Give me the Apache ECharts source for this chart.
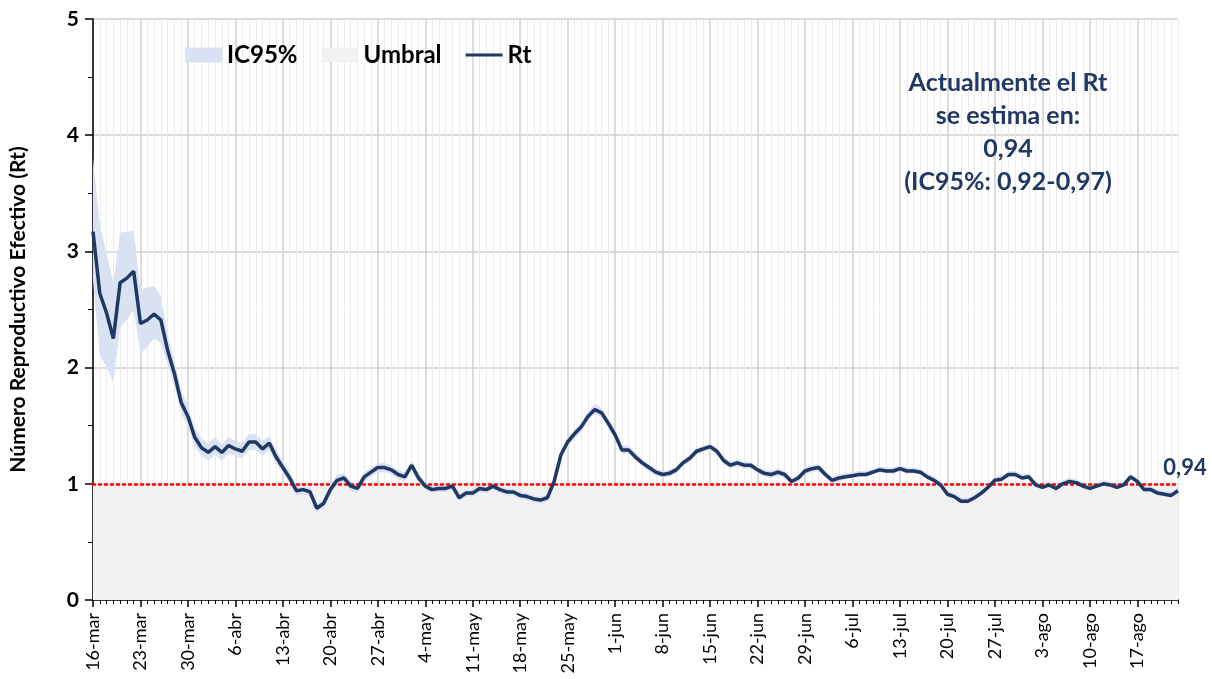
<!DOCTYPE html>
<html>
<head>
<meta charset="utf-8">
<script src="https://cdn.jsdelivr.net/npm/echarts@6/dist/echarts.min.js"></script>
<style>
html,body{margin:0;padding:0;background:#fff;}
#chart{width:1212px;height:679px;}
</style>
</head>
<body>
<div id="chart"></div>
<script>
// ---- data ----
const monthNames = ['mar','abr','may','jun','jul','ago'];
const monthLengths = [31,30,31,30,31,31];
const startDay = 16;
const dayCount = 161;

const rt = [
3.17,2.64,2.47,2.25,2.73,2.77,2.83,2.38,2.41,2.46,
2.41,2.15,1.95,1.70,1.58,1.40,1.31,1.27,1.32,1.27,
1.33,1.30,1.28,1.36,1.36,1.30,1.35,1.23,1.14,1.05,
0.94,0.95,0.93,0.79,0.83,0.95,1.03,1.05,0.98,0.96,
1.06,1.10,1.14,1.14,1.12,1.08,1.06,1.16,1.05,0.98,
0.95,0.96,0.96,0.98,0.88,0.92,0.92,0.96,0.95,0.98,
0.95,0.93,0.93,0.90,0.89,0.87,0.86,0.88,1.02,1.25,
1.36,1.43,1.49,1.58,1.64,1.61,1.52,1.42,1.29,1.29,
1.23,1.18,1.14,1.10,1.08,1.09,1.12,1.18,1.22,1.28,
1.30,1.32,1.28,1.20,1.16,1.18,1.16,1.16,1.12,1.09,
1.08,1.10,1.08,1.02,1.05,1.11,1.13,1.14,1.08,1.03,
1.05,1.06,1.07,1.08,1.08,1.10,1.12,1.11,1.11,1.13,
1.11,1.11,1.10,1.06,1.03,0.99,0.91,0.89,0.85,0.85,
0.88,0.92,0.97,1.03,1.04,1.08,1.08,1.05,1.06,0.99,
0.97,0.99,0.96,1.00,1.02,1.01,0.98,0.96,0.98,1.00,
0.99,0.97,0.99,1.06,1.02,0.95,0.95,0.92,0.91,0.90,
0.94
];

const ciLower = [
2.75,2.11,2.00,1.88,2.34,2.41,2.50,2.12,2.18,2.25,
2.21,2.03,1.84,1.61,1.49,1.32,1.24,1.20,1.25,1.20,
1.26,1.24,1.22,1.29,1.29,1.24,1.29,1.17,1.09,1.00,
0.90,0.91,0.89,0.75,0.79,0.91,0.99,1.01,0.94,0.92,
1.02,1.06,1.10,1.10,1.08,1.04,1.02,1.12,1.01,0.95,
0.92,0.93,0.93,0.95,0.85,0.89,0.89,0.93,0.92,0.95,
0.92,0.90,0.90,0.87,0.86,0.84,0.83,0.85,0.99,1.21,
1.32,1.39,1.45,1.54,1.60,1.57,1.48,1.38,1.26,1.26,
1.20,1.15,1.11,1.07,1.05,1.06,1.09,1.15,1.19,1.25,
1.27,1.29,1.25,1.17,1.13,1.15,1.13,1.13,1.09,1.06,
1.05,1.07,1.05,0.99,1.02,1.08,1.10,1.11,1.05,1.00,
1.02,1.04,1.05,1.06,1.06,1.08,1.10,1.09,1.09,1.11,
1.09,1.09,1.08,1.04,1.01,0.97,0.89,0.87,0.83,0.83,
0.86,0.90,0.95,1.01,1.02,1.06,1.06,1.03,1.04,0.97,
0.95,0.97,0.94,0.98,1.00,0.99,0.96,0.94,0.96,0.98,
0.97,0.95,0.97,1.04,1.00,0.93,0.93,0.90,0.89,0.88,
0.92
];

const ciUpper = [
3.80,3.24,2.98,2.73,3.16,3.17,3.18,2.67,2.69,2.70,
2.62,2.28,2.06,1.80,1.67,1.48,1.39,1.35,1.40,1.34,
1.40,1.37,1.35,1.43,1.43,1.37,1.41,1.29,1.20,1.10,
0.99,1.00,0.97,0.83,0.87,0.99,1.08,1.09,1.02,1.00,
1.10,1.14,1.18,1.18,1.16,1.12,1.10,1.20,1.09,1.02,
0.99,1.00,1.00,1.01,0.91,0.95,0.95,1.00,0.98,1.02,
0.98,0.96,0.96,0.93,0.92,0.90,0.89,0.91,1.05,1.29,
1.40,1.47,1.53,1.62,1.69,1.65,1.56,1.46,1.33,1.33,
1.27,1.21,1.17,1.13,1.11,1.12,1.15,1.21,1.25,1.31,
1.33,1.35,1.31,1.23,1.19,1.21,1.19,1.19,1.15,1.12,
1.11,1.13,1.11,1.05,1.08,1.14,1.16,1.17,1.11,1.06,
1.08,1.09,1.10,1.11,1.11,1.13,1.15,1.14,1.14,1.16,
1.14,1.14,1.13,1.09,1.06,1.02,0.94,0.92,0.88,0.88,
0.91,0.95,1.00,1.06,1.07,1.11,1.11,1.08,1.09,1.02,
1.00,1.02,0.99,1.03,1.05,1.04,1.01,0.99,1.01,1.03,
1.02,1.00,1.02,1.09,1.05,0.98,0.98,0.95,0.94,0.93,
0.97
];

const threshold = 1;
const yTicks = [0,1,2,3,4,5];
const currentText = ['Actualmente el Rt','se estima en:','0,94','(IC95%: 0,92-0,97)'];

// ---- build categories ----
const categories = [];
(function(){
  let m = 0, d = startDay;
  for (let i = 0; i < dayCount; i++) {
    categories.push(d + '-' + monthNames[m]);
    d++;
    if (d > monthLengths[m]) { d = 1; m++; }
  }
})();

const umbral = categories.map(() => threshold);
const ciDiff = ciUpper.map((u, i) => +(u - ciLower[i]).toFixed(3));
const fmt = v => v.toFixed(2).replace('.', ',');

const FONT = 'Lato, "Open Sans", sans-serif';
const NAVY = '#203864';
const lastIdx = rt.length - 1;

const chart = echarts.init(document.getElementById('chart'), null, {renderer: 'canvas'});
chart.setOption({
  animation: false,
  backgroundColor: '#fff',
  textStyle: {fontFamily: FONT},
  grid: {left: 91, right: 34, top: 19, bottom: 79, containLabel: false},
  legend: {
    left: 180, top: 38,
    itemWidth: 37, itemHeight: 15, itemGap: 24,
    textStyle: {fontFamily: FONT, fontSize: 24, fontWeight: 'bold', color: '#000'},
    data: [
      {name: 'IC95%', icon: 'rect'},
      {name: 'Umbral', icon: 'rect'},
      {name: 'Rt', icon: 'path://M0,0 L40,0 L40,3.5 L0,3.5 Z', itemStyle: {color: NAVY}}
    ]
  },
  xAxis: [{
    type: 'category',
    data: categories,
    boundaryGap: false,
    axisLine: {show: true, lineStyle: {color: '#000', width: 1.5}},
    axisTick: {show: true, interval: 6, length: 7, lineStyle: {color: '#000', width: 1.5}},
    axisLabel: {
      interval: 6, rotate: 90, margin: 13,
      fontFamily: FONT, fontSize: 18, color: '#000'
    },
    splitLine: {show: true, interval: 6, lineStyle: {color: '#d0d0d0', width: 1.5}}
  }, {
    type: 'category',
    data: categories,
    boundaryGap: false,
    position: 'bottom',
    axisLine: {show: false},
    axisLabel: {show: false},
    axisTick: {show: true, interval: i => i % 7 !== 0, length: 4, lineStyle: {color: '#000', width: 1}},
    splitLine: {show: true, interval: i => i % 7 !== 0, lineStyle: {color: '#ebebeb', width: 1}}
  }],
  yAxis: {
    type: 'value',
    min: yTicks[0], max: yTicks[yTicks.length - 1], interval: 1,
    name: 'Número Reproductivo Efectivo (Rt)',
    nameLocation: 'middle', nameGap: 64,
    nameTextStyle: {fontFamily: FONT, fontSize: 21, fontWeight: 'bold', color: '#000'},
    axisLine: {show: true, lineStyle: {color: '#000', width: 1.5}},
    axisTick: {show: true, length: 8, lineStyle: {color: '#000', width: 1.5}},
    minorTick: {show: true, splitNumber: 2, length: 5, lineStyle: {color: '#000', width: 1}},
    axisLabel: {margin: 14, fontFamily: FONT, fontSize: 21, fontWeight: 'bold', color: '#000'},
    splitLine: {show: true, lineStyle: {color: '#dcdcdc', width: 2}}
  },
  series: [{
    name: 'Umbral', type: 'line', data: umbral,
    symbol: 'none', silent: true, z: 1,
    itemStyle: {color: '#f2f2f2'},
    lineStyle: {width: 0, opacity: 0},
    areaStyle: {color: '#f2f2f2', opacity: 1}
  }, {
    name: 'ciLower', type: 'line', data: ciLower, stack: 'ci',
    symbol: 'none', silent: true, z: 2,
    lineStyle: {width: 0, opacity: 0}
  }, {
    name: 'IC95%', type: 'line', data: ciDiff, stack: 'ci',
    symbol: 'none', silent: true, z: 2,
    itemStyle: {color: '#d9e2f3'},
    lineStyle: {width: 0, opacity: 0},
    areaStyle: {color: '#d9e2f3', opacity: 1}
  }, {
    name: 'Rt', type: 'line', data: rt,
    symbol: 'none', z: 4,
    itemStyle: {color: NAVY},
    lineStyle: {color: NAVY, width: 3.5},
    markLine: {
      silent: true, symbol: 'none', z: 3,
      label: {show: false},
      lineStyle: {color: '#ff0000', width: 2.5, type: [2, 4], cap: 'round'},
      data: [{yAxis: threshold}]
    },
    markPoint: {
      silent: true,
      symbol: 'circle', symbolSize: 0,
      data: [{coord: [lastIdx, rt[lastIdx]], value: rt[lastIdx]}],
      label: {
        show: true, position: 'top', distance: 12, offset: [7, 0],
        formatter: p => fmt(p.value),
        color: NAVY, fontFamily: FONT, fontWeight: 'bold', fontSize: 22
      }
    }
  }],
  graphic: [{
    type: 'text', x: 1008, y: 66, z: 10,
    style: {
      text: currentText.join('\n'),
      textAlign: 'center',
      font: 'bold 25px ' + FONT,
      lineHeight: 33,
      fill: NAVY
    }
  }]
});
</script>
</body>
</html>
